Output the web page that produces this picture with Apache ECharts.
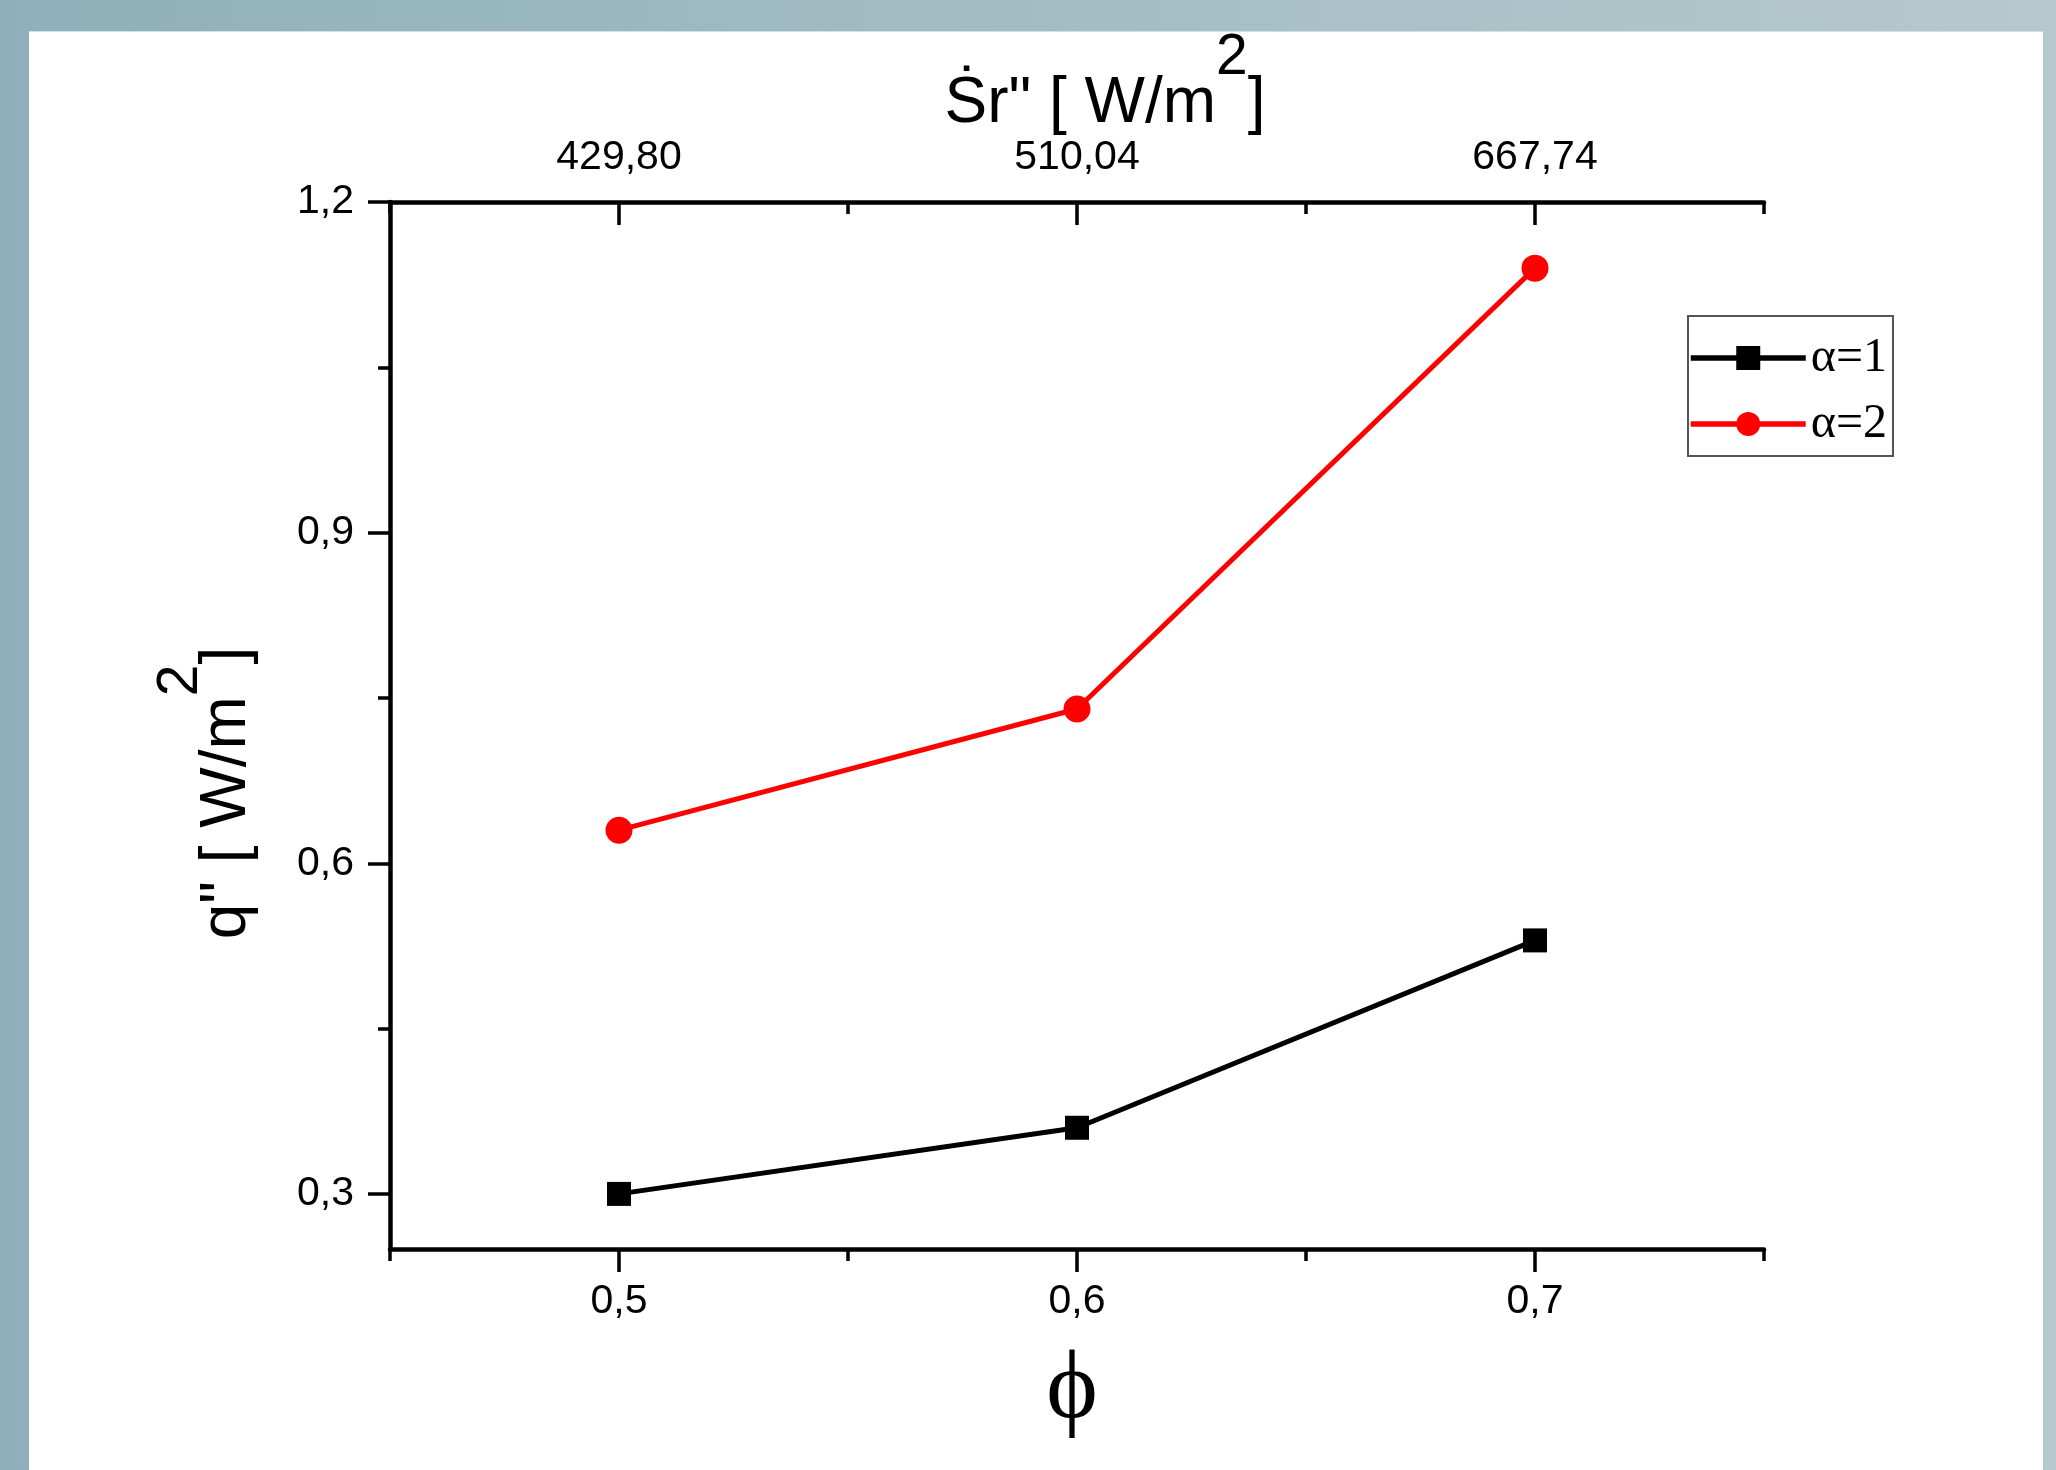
<!DOCTYPE html>
<html>
<head>
<meta charset="utf-8">
<title>q'' vs phi</title>
<script src="https://cdn.jsdelivr.net/npm/echarts@6/dist/echarts.min.js"></script>
<style>
    html, body { margin: 0; padding: 0; }
    body {
        width: 2056px; height: 1470px; overflow: hidden; position: relative;
        background: linear-gradient(to right, #8fb0ba, #b6c9cd);
    }
    #panel { position: absolute; left: 29px; top: 31px; width: 2014px; height: 1439px; background: #fff; border-top: 1px solid #d3e1e4; }
    #chart { position: absolute; left: 0; top: 0; width: 2056px; height: 1470px; }
</style>
</head>
<body>
<div id="panel"></div>
<div id="chart"></div>
<script>
// data
var phi = [0.5, 0.6, 0.7];
var srLabels = ['429,80', '510,04', '667,74'];   // top axis, Sr'' at each phi
var alpha1 = [0.30, 0.36, 0.53];
var alpha2 = [0.63, 0.74, 1.14];
var seriesNames = ['α=1', 'α=2'];

// ticks
var xMinorTicks = [0.45, 0.55, 0.65, 0.75];
var yMajorTicks = [0.3, 0.6, 0.9, 1.2];
var yMinorTicks = [0.45, 0.75, 1.05];

var sans = "'Liberation Sans', Arial, sans-serif";
var serif = "'Liberation Serif', 'Times New Roman', serif";

function comma(v){
    return v.toFixed(1).replace('.', ',');
}
function pairs(ys){
    return phi.map(function(p, i){ return [p, ys[i]]; });
}

// one axis with long ticks + labels, one more on the same side with short ticks only
function xAxisPair(pos, inside, labelFn, margin){
    return [{
        type: 'value', position: pos, min: 0.45, max: 0.75,
        axisLine: { show: true, onZero: false, lineStyle: { color: '#000', width: 4.5 } },
        axisTick: { show: true, inside: inside, customValues: phi, length: 23, lineStyle: { color: '#000', width: 3.5 } },
        axisLabel: { show: true, customValues: phi, margin: margin, formatter: labelFn, color: '#000', fontSize: 41, fontFamily: sans },
        splitLine: { show: false }
    }, {
        type: 'value', position: pos, min: 0.45, max: 0.75,
        axisLine: { show: false, onZero: false },
        axisTick: { show: true, inside: inside, customValues: xMinorTicks, length: 12, lineStyle: { color: '#000', width: 3.5 } },
        axisLabel: { show: false },
        splitLine: { show: false }
    }];
}

var chart = echarts.init(document.getElementById('chart'), null, { renderer: 'canvas' });

// superscript: main text sits at the line bottom, the "2" at the line top
var supRich = {
    m: { fontSize: 64, fontFamily: sans, lineHeight: 106, verticalAlign: 'bottom', fill: '#000' },
    s: { fontSize: 57, fontFamily: sans, lineHeight: 57, verticalAlign: 'top', fill: '#000' }
};

var option = {
    animation: false,
    backgroundColor: 'transparent',
    grid: { left: 390, right: 292, top: 202, bottom: 221, containLabel: false },
    xAxis: xAxisPair('bottom', false, function(v){ return comma(v); }, 32)
        .concat(xAxisPair('top', true, function(v){
            var i = phi.findIndex(function(p){ return Math.abs(p - v) < 1e-6; });
            return i < 0 ? '' : srLabels[i];
        }, 24)),
    yAxis: [{
        type: 'value', position: 'left', min: 0.25, max: 1.2,
        axisLine: { show: true, onZero: false, lineStyle: { color: '#000', width: 4.5 } },
        axisTick: { show: true, customValues: yMajorTicks, length: 22, lineStyle: { color: '#000', width: 3.5 } },
        axisLabel: { show: true, customValues: yMajorTicks, margin: 36, formatter: function(v){ return comma(v); }, color: '#000', fontSize: 41, fontFamily: sans },
        splitLine: { show: false }
    }, {
        type: 'value', position: 'left', min: 0.25, max: 1.2,
        axisLine: { show: false, onZero: false },
        axisTick: { show: true, customValues: yMinorTicks, length: 12, lineStyle: { color: '#000', width: 3.5 } },
        axisLabel: { show: false },
        splitLine: { show: false }
    }],
    legend: {
        orient: 'vertical', left: 1688, top: 316,
        data: seriesNames,
        itemWidth: 115, itemHeight: 30, itemGap: 18,
        padding: [18, 6, 8, 0],
        borderColor: '#555', borderWidth: 2,
        lineStyle: { width: 5.5 },
        textStyle: { fontFamily: serif, fontSize: 48, lineHeight: 48, color: '#000' }
    },
    series: [{
        name: seriesNames[0], type: 'line', xAxisIndex: 0, yAxisIndex: 0,
        data: pairs(alpha1),
        symbol: 'rect', symbolSize: 24,
        lineStyle: { color: '#000', width: 5 },
        itemStyle: { color: '#000' }
    }, {
        name: seriesNames[1], type: 'line', xAxisIndex: 0, yAxisIndex: 0,
        data: pairs(alpha2),
        symbol: 'circle', symbolSize: 27,
        lineStyle: { color: '#ff0000', width: 5 },
        itemStyle: { color: '#ff0000' }
    }],
    graphic: [{
        // top axis title
        type: 'text', x: 1105, y: 83,
        style: { text: '{m|Ṡr" [ W/m}{s|2}{m|]}', rich: supRich, align: 'center', verticalAlign: 'middle' }
    }, {
        // left axis title
        type: 'text', x: 206, y: 793, rotation: Math.PI / 2,
        style: { text: '{m|q" [ W/m}{s|2}{m|]}', rich: supRich, align: 'center', verticalAlign: 'middle' }
    }, {
        // bottom axis title
        type: 'text', x: 1072, y: 1391,
        style: { text: 'ϕ', font: '98px ' + serif, fill: '#000', align: 'center', verticalAlign: 'middle' }
    }]
};

chart.setOption(option);
</script>
</body>
</html>
